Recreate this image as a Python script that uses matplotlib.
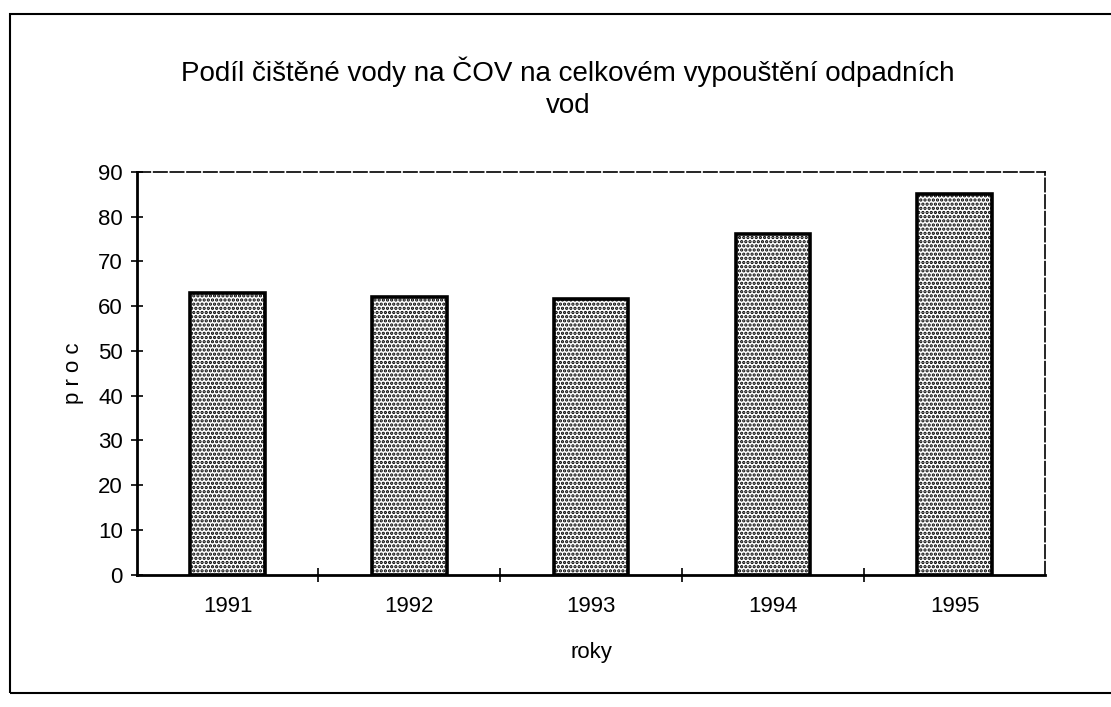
import matplotlib
matplotlib.use("Agg")
import matplotlib.pyplot as plt
from matplotlib.patches import Rectangle
from matplotlib.ticker import FixedLocator, NullFormatter

years = ["1991", "1992", "1993", "1994", "1995"]
values = [63, 62, 61.5, 76, 85]
yticks = [0, 10, 20, 30, 40, 50, 60, 70, 80, 90]

plt.rcParams['font.family'] = ['Liberation Sans', 'DejaVu Sans']
plt.rcParams['hatch.linewidth'] = 1.6

fig = plt.figure(figsize=(11.11, 7.07), dpi=100)
ax = fig.add_axes([0.123, 0.187, 0.818, 0.57])

x = list(range(len(years)))
ax.bar(x, values, width=0.41, color="white", edgecolor="black",
       linewidth=2.6, hatch="....")

ax.set_xlim(-0.5, len(years) - 0.5)
ax.set_ylim(0, 90)
ax.set_yticks(yticks)
ax.tick_params(axis='y', direction='inout', length=8, width=1.2,
               labelsize=16, pad=6)
ax.xaxis.set_major_locator(FixedLocator([i + 0.5 for i in range(len(years) - 1)]))
ax.xaxis.set_major_formatter(NullFormatter())
ax.xaxis.set_minor_locator(FixedLocator(x))
ax.set_xticklabels(years, minor=True)
ax.tick_params(axis='x', which='major', direction='inout', length=10, width=1.2)
ax.tick_params(axis='x', which='minor', length=0, labelsize=16, pad=15)

for s in ['left', 'bottom']:
    ax.spines[s].set_linewidth(2)
for s in ['top', 'right']:
    ax.spines[s].set_linewidth(1.2)
    ax.spines[s].set_linestyle((0, (8, 2)))

ax.set_ylabel("p r o c", fontsize=16, labelpad=10)
ax.set_xlabel("roky", fontsize=16, labelpad=18)

fig.text(0.511, 0.898, "Podíl čištěné vody na ČOV na celkovém vypouštění odpadních",
         ha="center", va="center", fontsize=20)
fig.text(0.511, 0.850, "vod", ha="center", va="center", fontsize=20)

fig.patches.append(Rectangle((0.009, 0.02), 1.2, 0.96, transform=fig.transFigure,
                             fill=False, edgecolor="black", linewidth=1.5))

fig.savefig("out.png", dpi=100)
